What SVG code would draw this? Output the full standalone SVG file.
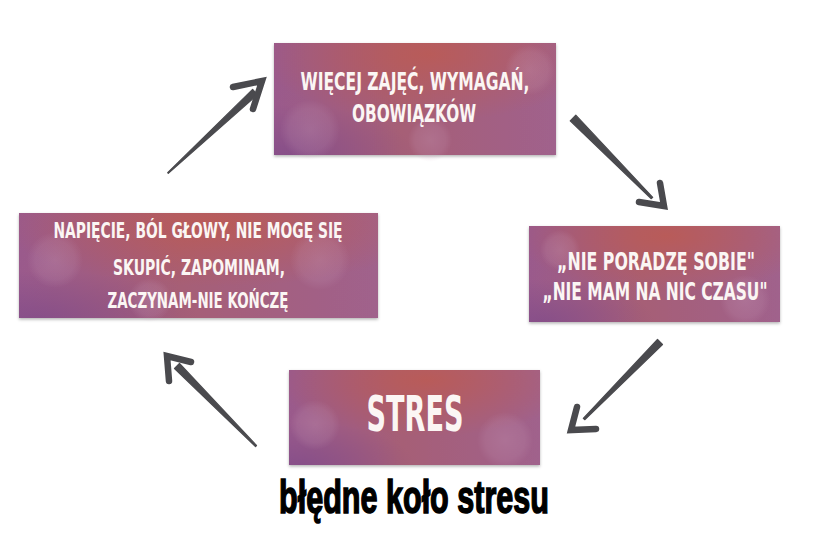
<svg xmlns="http://www.w3.org/2000/svg" width="819" height="554" viewBox="0 0 819 554">
<defs>
<linearGradient id="base" x1="0" y1="0" x2="1" y2="0">
<stop offset="0" stop-color="#9a5a8c"/>
<stop offset="0.45" stop-color="#a65e76"/>
<stop offset="1" stop-color="#a0628c"/>
</linearGradient>
<radialGradient id="warm" cx="0.55" cy="0.1" r="0.6">
<stop offset="0" stop-color="#bf5a4e" stop-opacity="0.75"/>
<stop offset="1" stop-color="#bf5a4e" stop-opacity="0"/>
</radialGradient>
<radialGradient id="dark" cx="0.05" cy="1" r="0.45">
<stop offset="0" stop-color="#7f4a88" stop-opacity="0.7"/>
<stop offset="1" stop-color="#7f4a88" stop-opacity="0"/>
</radialGradient>
<radialGradient id="bokeh" cx="0.5" cy="0.5" r="0.5">
<stop offset="0" stop-color="#c79ab8" stop-opacity="0.3"/>
<stop offset="0.7" stop-color="#c79ab8" stop-opacity="0.18"/>
<stop offset="1" stop-color="#c79ab8" stop-opacity="0"/>
</radialGradient>
<filter id="sh" x="-5%" y="-5%" width="110%" height="115%">
<feDropShadow dx="0" dy="1.5" stdDeviation="1.5" flood-color="#000" flood-opacity="0.3"/>
</filter>
</defs>
<style>
.box{fill:url(#base);filter:url(#sh)}
.warm{fill:url(#warm)}
.dark{fill:url(#dark)}
.bk{fill:url(#bokeh)}
.t{font-family:"Liberation Sans Narrow","DejaVu Sans",sans-serif;font-stretch:condensed;font-weight:bold;fill:#fbf6f4;text-anchor:middle}
.shaft{fill:#4a4a4e;stroke:#4a4a4e;stroke-width:1.2;stroke-linejoin:round}
.head{fill:none;stroke:#4a4a4e;stroke-width:6.5;stroke-linecap:round;stroke-linejoin:miter}
.cap{font-family:"Liberation Sans",Arial,sans-serif;font-weight:bold;fill:#000;stroke:#000;stroke-width:1.6;text-anchor:middle}
</style>
<rect width="819" height="554" fill="#ffffff"/>

<g id="connectors">
<polygon class="shaft" points="167.7,172.6 252.6,89.4 257.4,94.6 168.3,173.4"/>
<polyline class="head" points="233,87 262,81 253,109"/>
<polygon class="shaft" points="575.8,115.2 652.7,197.3 651.3,198.7 570.2,120.8"/>
<polyline class="head" points="660,183 664,206 639,202"/>
<polygon class="shaft" points="662.5,344.5 584.7,419.7 583.3,418.3 657.5,339.5"/>
<polyline class="head" points="577,407 571,430 596,429"/>
<polygon class="shaft" points="179.5,363.5 256.5,445.5 255.5,446.5 174.5,368.5"/>
<polyline class="head" points="191,362 167,356 169,381"/>
</g>

<g id="node-top">
<rect class="box" x="274" y="43" width="282" height="112"/>
<rect class="warm" x="274" y="43" width="282" height="112"/>
<rect class="dark" x="274" y="43" width="282" height="112"/>
<circle class="bk" cx="310" cy="130" r="30"/>
<circle class="bk" cx="530" cy="70" r="25"/>
<circle class="bk" cx="430" cy="140" r="22"/>
<text class="t" x="415" y="90" font-size="25" textLength="229" lengthAdjust="spacingAndGlyphs">WIĘCEJ ZAJĘĆ, WYMAGAŃ,</text>
<text class="t" x="414" y="122" font-size="25" textLength="124" lengthAdjust="spacingAndGlyphs">OBOWIĄZKÓW</text>
</g>

<g id="node-left">
<rect class="box" x="19" y="213" width="359" height="105"/>
<rect class="warm" x="19" y="213" width="359" height="105"/>
<rect class="dark" x="19" y="213" width="359" height="105"/>
<circle class="bk" cx="55" cy="260" r="28"/>
<circle class="bk" cx="320" cy="260" r="30"/>
<circle class="bk" cx="150" cy="300" r="22"/>
<text class="t" x="198" y="238" font-size="21" textLength="289" lengthAdjust="spacingAndGlyphs">NAPIĘCIE, BÓL GŁOWY, NIE MOGĘ SIĘ</text>
<text class="t" x="199" y="275" font-size="21" textLength="172" lengthAdjust="spacingAndGlyphs">SKUPIĆ, ZAPOMINAM,</text>
<text class="t" x="198" y="308" font-size="21" textLength="181" lengthAdjust="spacingAndGlyphs">ZACZYNAM-NIE KOŃCZĘ</text>
</g>

<g id="node-right">
<rect class="box" x="529" y="226" width="251" height="96"/>
<rect class="warm" x="529" y="226" width="251" height="96"/>
<rect class="dark" x="529" y="226" width="251" height="96"/>
<circle class="bk" cx="745" cy="300" r="25"/>
<circle class="bk" cx="560" cy="250" r="20"/>
<text class="t" x="656" y="270" font-size="24" textLength="198" lengthAdjust="spacingAndGlyphs">„NIE PORADZĘ SOBIE"</text>
<text class="t" x="655" y="300" font-size="24" textLength="225" lengthAdjust="spacingAndGlyphs">„NIE MAM NA NIC CZASU"</text>
</g>

<g id="node-stres">
<rect class="box" x="289" y="370" width="251" height="95"/>
<rect class="warm" x="289" y="370" width="251" height="95"/>
<rect class="dark" x="289" y="370" width="251" height="95"/>
<circle class="bk" cx="315" cy="425" r="25"/>
<circle class="bk" cx="505" cy="440" r="28"/>
<text class="t" x="415" y="431" font-size="50" textLength="97" lengthAdjust="spacingAndGlyphs">STRES</text>
</g>

<g id="caption">
<text class="cap" x="414" y="513" font-size="46" textLength="270" lengthAdjust="spacingAndGlyphs">błędne koło stresu</text>
</g>
</svg>
